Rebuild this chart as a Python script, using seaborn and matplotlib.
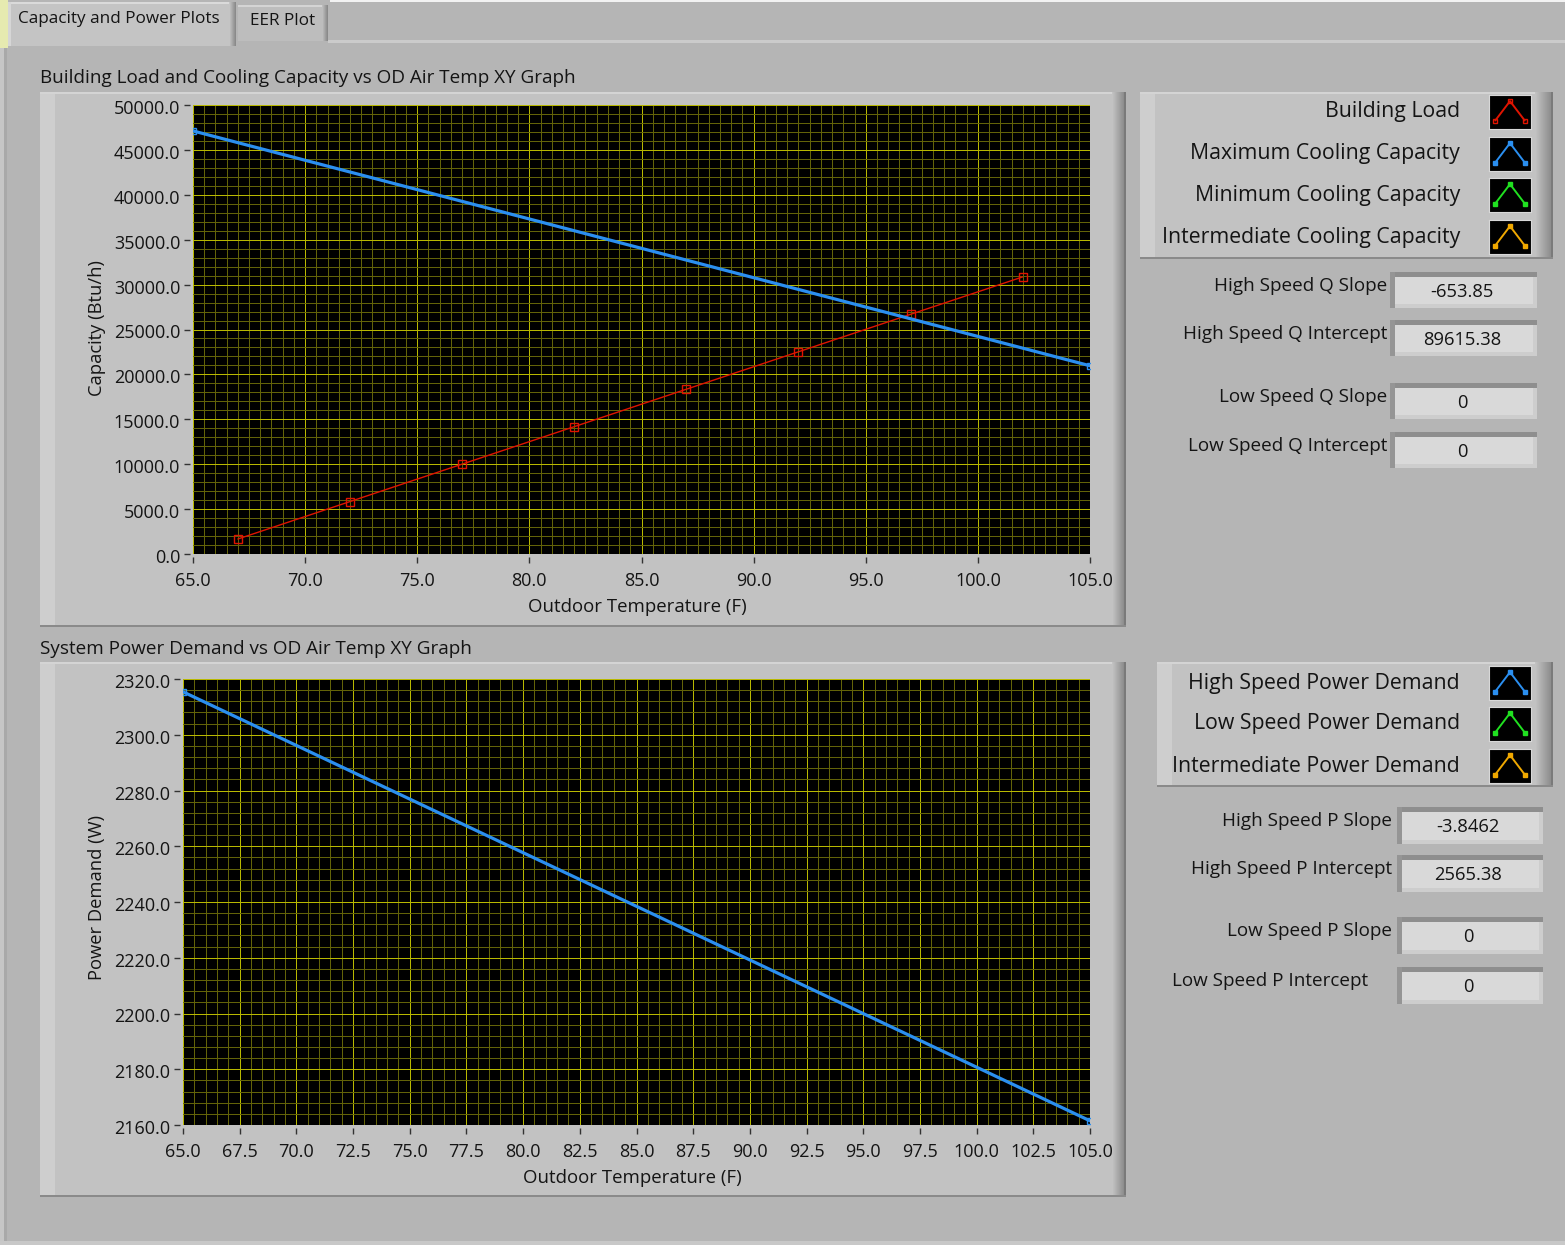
import numpy as np
import pandas as pd
import matplotlib
matplotlib.use("Agg")
import matplotlib.pyplot as plt
from matplotlib.patches import Rectangle
from matplotlib.ticker import MultipleLocator, FormatStrFormatter
import matplotlib.transforms as mtransforms
import seaborn as sns

# ---------------- data ----------------
load_temp = [67, 72, 77, 82, 87, 92, 97, 102]
building_load = [1670, 5840, 10010, 14180, 18350, 22520, 26690, 30860]

cap_temp = [65, 105]
max_cooling_capacity = [47115.4, 20961.5]

pow_temp = [65, 105]
high_speed_power = [2315.4, 2161.5]

top_legend = ["Building Load", "Maximum Cooling Capacity",
              "Minimum Cooling Capacity", "Intermediate Cooling Capacity"]
bottom_legend = ["High Speed Power Demand", "Low Speed Power Demand",
                 "Intermediate Power Demand"]
top_ind_labels = ["High Speed Q Slope", "High Speed Q Intercept",
                  "Low Speed Q Slope", "Low Speed Q Intercept"]
top_ind_values = ["-653.85", "89615.38", "0", "0"]
bot_ind_labels = ["High Speed P Slope", "High Speed P Intercept",
                  "Low Speed P Slope", "Low Speed P Intercept"]
bot_ind_values = ["-3.8462", "2565.38", "0", "0"]

# ---------------- style ----------------
sns.set_style("dark")
plt.rcParams["font.family"] = ["Open Sans", "DejaVu Sans"]

W, H = 1565, 1245
BG = "#b5b5b5"
FACE = "#c2c2c2"
TXT = "#141414"
RED = "#e01400"
BLUE = "#2b8ff0"
GREEN = "#20e020"
ORANGE = "#f0a800"
MAJ = "#b8b800"
MIN = "#636308"

fig = plt.figure(figsize=(W / 100, H / 100), dpi=100)
fig.patch.set_facecolor(BG)
bg = fig.add_axes([0, 0, 1, 1])
bg.set_xlim(0, W)
bg.set_ylim(H, 0)
bg.axis("off")
bg.set_zorder(-10)


def px(x, y, w, h):
    return [x / W, 1 - (y + h) / H, w / W, h / H]


def rect(x, y, w, h, c, z=1):
    bg.add_patch(Rectangle((x, y), w, h, facecolor=c, edgecolor="none", zorder=z))


def grad_h(x, y, w, h, c0, c1, n=None, z=2):
    n = n or int(w)
    a = np.array(matplotlib.colors.to_rgb(c0))
    b = np.array(matplotlib.colors.to_rgb(c1))
    for i in range(n):
        t = i / max(n - 1, 1)
        rect(x + i * w / n, y, w / n + 0.3, h, tuple(a + (b - a) * t), z)


def frame(x0, y0, x1, y1, bevel=14):
    rect(x0, y0, x1 - x0, y1 - y0, FACE)
    rect(x0, y0, 15, y1 - y0, "#cecece", 2)
    rect(x0, y0, x1 - x0, 2, "#d4d4d4", 2)
    grad_h(x1 - bevel, y0, bevel - 2, y1 - y0, FACE, "#8e8e8e")
    rect(x1 - 2, y0, 2, y1 - y0, "#7a7a7a", 3)
    rect(x0, y1 - 2, x1 - x0, 2, "#8a8a8a", 3)


def indicator(x0, y0, x1, y1):
    rect(x0, y0, x1 - x0, y1 - y0, "#cdcdcd")
    rect(x0, y0, x1 - x0, 5, "#8e8e8e", 2)
    rect(x0, y0, 5, y1 - y0, "#959595", 2)
    rect(x0 + 5, y0 + 5, x1 - x0 - 9, y1 - y0 - 9, "#d9d9d9", 3)


# ---------------- panel chrome ----------------
rect(0, 0, 8, 48, "#e6eab0", 0)
rect(330, 0, W - 330, 2, "#f2f2f2", 0)
rect(0, 48, 4, H - 48, "#c6c6c6", 0)
rect(4, 48, 3, H - 48, "#a9a9a9", 0)
rect(328, 40, W - 328, 3, "#cbcbcb", 0)
rect(0, H - 4, W, 4, "#c8c8c8", 0)
# tabs
rect(8, 2, 228, 44, "#c4c4c4", 1)
rect(8, 2, 228, 2, "#dadada", 2)
rect(8, 2, 3, 44, "#d6d6d6", 2)
grad_h(229, 2, 7, 44, "#c4c4c4", "#8a8a8a")
rect(238, 5, 90, 36, "#bdbdbd", 1)
rect(238, 5, 90, 2, "#d4d4d4", 2)
grad_h(322, 5, 6, 36, "#bdbdbd", "#8a8a8a")
bg.text(18, 19, "Capacity and Power Plots", fontsize=12.3, color=TXT, va="center", ha="left", zorder=5)
bg.text(250, 21, "EER Plot", fontsize=12.3, color=TXT, va="center", ha="left", zorder=5)

# graph frames
frame(40, 92, 1126, 627)
frame(40, 662, 1126, 1197)
bg.text(40, 78, "Building Load and Cooling Capacity vs OD Air Temp XY Graph",
        fontsize=13.6, color=TXT, va="center", ha="left")
bg.text(40, 649, "System Power Demand vs OD Air Temp XY Graph",
        fontsize=13.6, color=TXT, va="center", ha="left")
bg.text(97, 328, "Capacity (Btu/h)", fontsize=13.2, color=TXT, rotation=90,
        va="center", ha="center", zorder=5)
bg.text(637, 607, "Outdoor Temperature (F)", fontsize=13.4, color=TXT,
        va="center", ha="center", zorder=5)
bg.text(97, 898, "Power Demand (W)", fontsize=13.2, color=TXT, rotation=90,
        va="center", ha="center", zorder=5)
bg.text(632, 1178, "Outdoor Temperature (F)", fontsize=13.4, color=TXT,
        va="center", ha="center", zorder=5)

# legends
frame(1140, 92, 1553, 259, bevel=18)
frame(1157, 662, 1553, 787, bevel=18)


def icon(x, y, col, hollow):
    a = fig.add_axes(px(x, y, 42, 34))
    a.set_facecolor("black")
    a.set_xlim(0, 1)
    a.set_ylim(0, 1)
    a.set_xticks([])
    a.set_yticks([])
    for s in a.spines.values():
        s.set_color("#d8d8d8")
        s.set_linewidth(0.8)
    a.plot([0.15, 0.5, 0.85], [0.25, 0.82, 0.25], color=col, lw=1.4,
           marker="s", ms=3.5, mfc="none" if hollow else col, mec=col, mew=1)


top_cols = [RED, BLUE, GREEN, ORANGE]
top_icon_y = [95, 137, 178, 220]
for lab, c, yy in zip(top_legend, top_cols, top_icon_y):
    bg.text(1460, yy + 17, lab, fontsize=15.3, color=TXT, ha="right", va="center", zorder=5)
    icon(1489, yy, c, c == RED)

bot_cols = [BLUE, GREEN, ORANGE]
bot_icon_y = [666, 707, 749]
for lab, c, yy in zip(bottom_legend, bot_cols, bot_icon_y):
    bg.text(1460, yy + 17, lab, fontsize=15.3, color=TXT, ha="right", va="center", zorder=5)
    icon(1489, yy, c, False)

# indicators
top_boxes = [272, 320, 383, 432]
for lab, val, yy in zip(top_ind_labels, top_ind_values, top_boxes):
    indicator(1390, yy, 1537, yy + 36)
    bg.text(1387, yy + 14, lab, fontsize=13.6, color=TXT, ha="right", va="center", zorder=5)
    bg.text(1462, yy + 20, val, fontsize=13.2, color=TXT, ha="center", va="center", zorder=5)

bot_boxes = [807, 855, 917, 967]
bot_label_x = [1392, 1392, 1392, 1368]
for lab, val, yy, lx in zip(bot_ind_labels, bot_ind_values, bot_boxes, bot_label_x):
    indicator(1397, yy, 1543, yy + 37)
    bg.text(lx, yy + 14, lab, fontsize=13.6, color=TXT, ha="right", va="center", zorder=5)
    bg.text(1468, yy + 20, val, fontsize=13.2, color=TXT, ha="center", va="center", zorder=5)


# ---------------- plots ----------------
def style_axes(ax, xmaj, xmin, ymaj, ymin):
    ax.set_facecolor("black")
    ax.xaxis.set_major_locator(MultipleLocator(xmaj))
    ax.xaxis.set_minor_locator(MultipleLocator(xmin))
    ax.yaxis.set_major_locator(MultipleLocator(ymaj))
    ax.yaxis.set_minor_locator(MultipleLocator(ymin))
    ax.xaxis.set_major_formatter(FormatStrFormatter("%.1f"))
    ax.yaxis.set_major_formatter(FormatStrFormatter("%.1f"))
    ax.grid(which="minor", color=MIN, lw=0.72)
    ax.grid(which="major", color=MAJ, lw=0.72)
    ax.set_axisbelow(True)
    for s in ["top", "right"]:
        ax.spines[s].set_visible(False)
    for s in ["left", "bottom"]:
        ax.spines[s].set_position(("outward", 2.2))
        ax.spines[s].set_visible(False)
    ax.tick_params(which="major", direction="out", length=4.5, width=1,
                   color="#333333", labelsize=13, labelcolor=TXT, pad=2.5,
                   left=True, bottom=True)
    ax.tick_params(axis="x", which="major", pad=6)
    ax.tick_params(which="minor", length=0)
    ax.set_xlabel("")
    ax.set_ylabel("")
    off = mtransforms.ScaledTranslation(0, -2 / 100, fig.dpi_scale_trans)
    for lab in ax.get_yticklabels():
        lab.set_transform(lab.get_transform() + off)


ax1 = fig.add_axes(px(193, 105, 897, 449))
df_load = pd.DataFrame({"T": load_temp, "Q": building_load})
df_cap = pd.DataFrame({"T": cap_temp, "Q": max_cooling_capacity})
sns.lineplot(data=df_load, x="T", y="Q", ax=ax1, color=RED, lw=1.0,
             marker="s", markersize=6, markerfacecolor="none",
             markeredgecolor=RED, markeredgewidth=1.0)
sns.lineplot(data=df_cap, x="T", y="Q", ax=ax1, color=BLUE, lw=2.3,
             marker="s", markersize=5, markerfacecolor="none",
             markeredgecolor=BLUE, markeredgewidth=1.0)
ax1.set_xlim(65, 105)
ax1.set_ylim(0, 50000)
style_axes(ax1, 5, 0.5, 5000, 1000)

ax2 = fig.add_axes(px(183, 679, 907, 446))
df_pow = pd.DataFrame({"T": pow_temp, "P": high_speed_power})
sns.lineplot(data=df_pow, x="T", y="P", ax=ax2, color=BLUE, lw=2.3,
             marker="s", markersize=5, markerfacecolor="none",
             markeredgecolor=BLUE, markeredgewidth=1.0)
ax2.set_xlim(65, 105)
ax2.set_ylim(2160, 2320)
style_axes(ax2, 2.5, 0.5, 20, 4)

fig.savefig("out.png", dpi=100, facecolor=BG)
